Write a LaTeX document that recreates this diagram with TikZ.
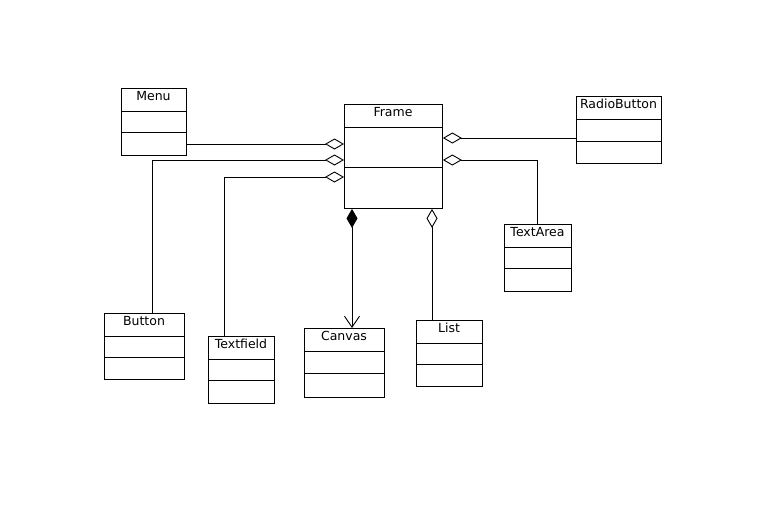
\documentclass[tikz,border=0pt]{standalone}
\usepackage{fontspec}
\setmainfont{DejaVu Sans}
\usetikzlibrary{arrows.meta}
\newcommand\umlclass[8]{%
  \node[classbox, minimum width={(#4-#2)*1pt}, minimum height={(#5-#3)*1pt}] (#1) at (#2,#3) {};
  \draw (#2,#6) -- (#4,#6);
  \draw (#2,#7) -- (#4,#7);
  \node[lbl] at ({(#2+#4)/2},{#3+12.5}) {#8};
}
\begin{document}
\begin{tikzpicture}[x=1pt,y=-1pt, line width=0.9pt,
  classbox/.style={draw, rectangle, inner sep=0pt, anchor=north west},
  agg/.style={{Diamond[open,length=19pt,width=11pt]}-},
  comp/.style={{Diamond[length=19pt,width=11pt]}-{Straight Barb[length=11pt,width=15pt]}},
  lbl/.style={font=\fontsize{12.5}{13}\selectfont, anchor=base, inner sep=0pt}]
\useasboundingbox (0,0) rectangle (764,523);

\umlclass{menu}{121}{88}{186}{155}{111}{132}{Menu}
\umlclass{frame}{344}{104}{442}{208}{127}{167}{Frame}
\umlclass{radio}{576}{96}{661}{163}{119}{141}{RadioButton}
\umlclass{textarea}{504}{224}{571}{291}{247}{268}{TextArea}
\umlclass{button}{104}{313}{184}{379}{336}{357}{Button}
\umlclass{textfield}{208}{336}{274}{403}{359}{380}{Textfield}
\umlclass{canvas}{304}{328}{384}{397}{351}{373}{Canvas}
\umlclass{list}{416}{320}{482}{386}{343}{364}{List}

\coordinate (ym) at (0,144);
\coordinate (bc) at (152,160);
\coordinate (tc) at (224,177);
\coordinate (yr) at (0,138);
\coordinate (tac) at (537,160);
\coordinate (cc) at (352,0);
\coordinate (lc) at (432,0);

\draw[agg] (frame.west |- ym) -- (menu.east |- ym);
\draw[agg] (frame.west |- bc) -- (bc) -- (bc |- button.north);
\draw[agg] (frame.west |- tc) -- (tc) -- (tc |- textfield.north);
\draw[agg] (frame.east |- yr) -- (radio.west |- yr);
\draw[agg] (frame.east |- tac) -- (tac) -- (tac |- textarea.north);
\draw[comp] (frame.south -| cc) -- (canvas.north -| cc);
\draw[agg] (frame.south -| lc) -- (list.north -| lc);
\end{tikzpicture}
\end{document}
